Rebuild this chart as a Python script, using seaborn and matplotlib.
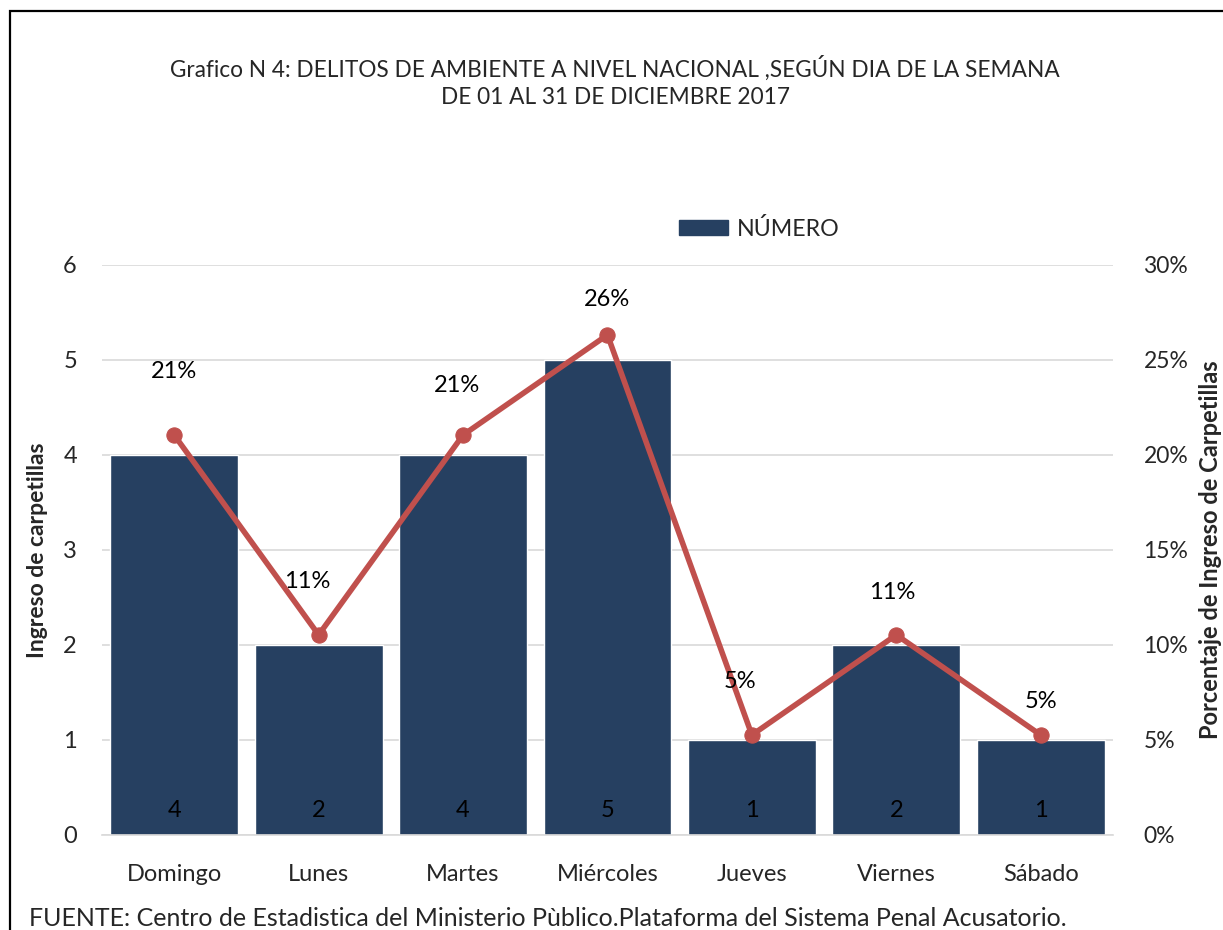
"""
Grafico N 4: delitos de ambiente segun dia de la semana
Barras (numero) + linea de porcentaje en eje secundario
"""

import numpy as np
import pandas as pd
import matplotlib
matplotlib.use('Agg')
import matplotlib.pyplot as plt
import matplotlib.patches as mpatches
from matplotlib.ticker import PercentFormatter
import seaborn as sns

# Data
dias = ['Domingo', 'Lunes', 'Martes', 'Miércoles', 'Jueves', 'Viernes', 'Sábado']
numero = [4, 2, 4, 5, 1, 2, 1]
porcentaje = [0.2105, 0.1053, 0.2105, 0.2632, 0.0526, 0.1053, 0.0526]
pct_labels = ['21%', '11%', '21%', '26%', '5%', '11%', '5%']

# label placement (as dragged in the original chart)
pct_dx = [0, -0.076, -0.04, 0, -0.083, -0.03, 0]
pct_dy = [0.0332, 0.0279, 0.0263, 0.0184, 0.0284, 0.0221, 0.0174]

bar_color = '#264061'
line_color = '#C0504D'

sns.set_theme(style='white')
plt.rcParams['font.family'] = ['Lato', 'DejaVu Sans']

df = pd.DataFrame({'dia': dias, 'numero': numero, 'pct': porcentaje})

fig = plt.figure(figsize=(12.23, 9.30), dpi=100)
ax = fig.add_axes([0.0834, 0.1022, 0.8266, 0.6129])

sns.barplot(data=df, x='dia', y='numero', color=bar_color, saturation=1,
            width=0.885, ax=ax)
ax.set_xlim(-0.5, 6.5)
ax.set_ylim(0, 6)
ax.set_yticks(range(0, 7))
ax.yaxis.grid(True, color='#D9D9D9', linewidth=1.2)
ax.set_axisbelow(True)
for s in ['top', 'right', 'left']:
    ax.spines[s].set_visible(False)
ax.spines['bottom'].set_color('#D9D9D9')
ax.spines['bottom'].set_linewidth(1.2)
ax.tick_params(axis='both', length=0, labelsize=17)
ax.tick_params(axis='y', pad=18)
ax.tick_params(axis='x', pad=21)
ax.set_xlabel('')
ax.set_ylabel('Ingreso de carpetillas', fontsize=16.5, fontweight='bold', labelpad=11)

# value labels at the bottom of the bars
for i, v in enumerate(numero):
    ax.text(i, 0.26, str(v), ha='center', va='center', fontsize=17, color='black')

# secondary axis for percentage
ax2 = ax.twinx()
sns.lineplot(x=np.arange(len(dias)), y=porcentaje, ax=ax2, color=line_color,
             linewidth=4, marker='o', markersize=11, markeredgecolor=line_color)
ax2.set_ylim(0, 0.30)
ax2.set_yticks(np.arange(0, 0.31, 0.05))
ax2.yaxis.set_major_formatter(PercentFormatter(1.0, decimals=0))
for s in ['top', 'right', 'left', 'bottom']:
    ax2.spines[s].set_visible(False)
ax2.tick_params(axis='y', length=0, labelsize=16.5, pad=22)
ax2.set_ylabel('Porcentaje de Ingreso de Carpetillas', fontsize=17,
               fontweight='bold', labelpad=8)

for i, (p, lab) in enumerate(zip(porcentaje, pct_labels)):
    ax2.text(i + pct_dx[i], p + pct_dy[i], lab, ha='center', va='center',
             fontsize=17, color='black')

# legend
handle = mpatches.Patch(color=bar_color, label='NÚMERO')
fig.legend(handles=[handle], loc='center', bbox_to_anchor=(0.6206, 0.754),
           frameon=False, fontsize=16.7, handlelength=2.15, handleheight=0.6,
           handletextpad=0.35)

# title
fig.text(0.503, 0.927, 'Grafico N 4: DELITOS DE AMBIENTE A NIVEL NACIONAL ,SEGÚN DIA DE LA SEMANA',
         ha='center', va='center', fontsize=16.3)
fig.text(0.503, 0.895, 'DE 01 AL 31 DE DICIEMBRE 2017', ha='center', va='center', fontsize=16.3)

# source note
fig.text(0.024, 0.012, 'FUENTE: Centro de Estadistica del Ministerio Pùblico.Plataforma del Sistema Penal Acusatorio.',
         ha='left', va='center', fontsize=18)

# outer frame
frame = mpatches.Rectangle((10 / 1223, -0.05), 1.2, 0.05 + 1 - 11 / 930,
                           transform=fig.transFigure, fill=False,
                           edgecolor='black', linewidth=1.6)
fig.patches.append(frame)

plt.savefig('out.png', dpi=100)
plt.close()
